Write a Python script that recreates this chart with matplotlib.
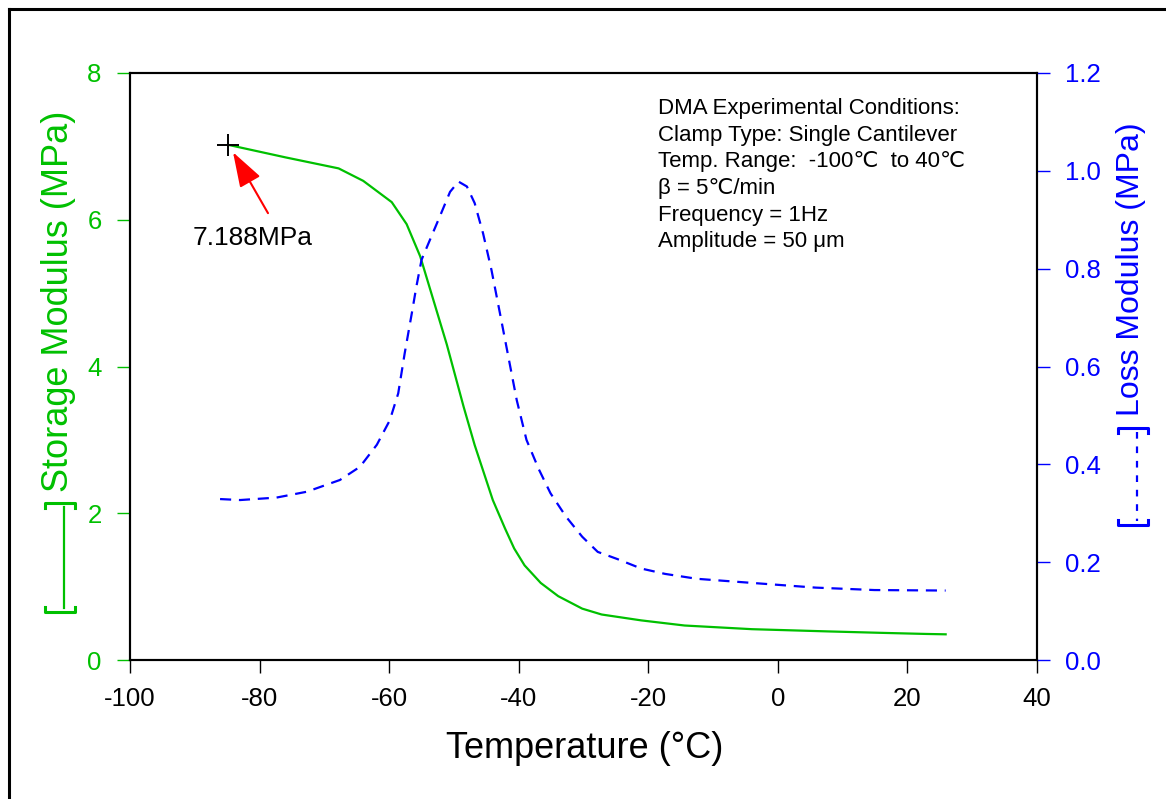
"""
DMA 储能模量 / 损耗模量 随温度变化曲线
"""

import matplotlib
matplotlib.use("Agg")
import matplotlib.pyplot as plt
from matplotlib.lines import Line2D


# ==================== 数据 ====================

# 储能模量 (左轴, MPa)
storage_temp = [-84.8, -76.0, -67.8, -64.0, -59.6, -57.3, -55.2, -51.1, -48.5, -46.8,
                -44.0, -42.1, -40.7, -39.1, -36.6, -33.9, -30.2, -27.2, -21.1, -14.4,
                -4.0, 7.6, 16.0, 22.9, 25.9]
storage_mod = [7.02, 6.85, 6.70, 6.53, 6.24, 5.94, 5.50, 4.30, 3.45, 2.93,
               2.18, 1.79, 1.52, 1.29, 1.05, 0.87, 0.70, 0.62, 0.54, 0.47,
               0.42, 0.39, 0.37, 0.355, 0.35]

# 损耗模量 (右轴, MPa)
loss_temp = [-86.1, -83.0, -77.4, -72.7, -67.6, -64.5, -61.9, -59.9, -58.6, -57.6,
             -56.5, -55.8, -55.0, -53.7, -52.2, -50.6, -49.3, -48.0, -46.8, -45.5,
             -44.2, -42.9, -41.6, -40.3, -38.8, -36.9, -35.1, -32.7, -30.2, -27.8,
             -24.7, -21.1, -17.4, -12.5, -3.4, 5.8, 14.9, 25.9]
loss_mod = [0.329, 0.327, 0.332, 0.344, 0.368, 0.395, 0.44, 0.49, 0.545, 0.627,
            0.709, 0.763, 0.818, 0.859, 0.906, 0.957, 0.978, 0.968, 0.934, 0.872,
            0.797, 0.709, 0.620, 0.531, 0.450, 0.390, 0.341, 0.293, 0.252, 0.221,
            0.206, 0.187, 0.176, 0.166, 0.157, 0.148, 0.143, 0.142]

# 标注点
peak_temp = -84.8
peak_mod = 7.02
peak_label = "7.188MPa"

x_ticks = [-100, -80, -60, -40, -20, 0, 20, 40]
left_ticks = [0, 2, 4, 6, 8]
right_ticks = [0.0, 0.2, 0.4, 0.6, 0.8, 1.0, 1.2]

conditions = [
    "DMA Experimental Conditions:",
    "Clamp Type: Single Cantilever",
    "Temp. Range:  -100\u2103  to 40\u2103",
    "\u03b2 = 5\u2103/min",
    "Frequency = 1Hz",
    "Amplitude = 50 \u03bcm",
]

GREEN = "#00c000"
BLUE = "#0000ff"
W, H = 1166, 799


def px(x, y):
    """像素坐标 -> figure 坐标"""
    return x / W, 1 - y / H


def main():
    plt.rcParams["font.family"] = ["Liberation Sans", "DejaVu Sans"]
    plt.rcParams["axes.unicode_minus"] = False

    fig = plt.figure(figsize=(W / 100, H / 100), dpi=100)
    x0, y1 = px(130, 73)
    x1, y0 = px(1037, 660)
    ax = fig.add_axes([x0, y0, x1 - x0, y1 - y0])
    ax2 = ax.twinx()

    # --- 曲线 ---
    ax.plot(storage_temp, storage_mod, color=GREEN, lw=1.6, zorder=3)
    ax2.plot(loss_temp, loss_mod, color=BLUE, lw=1.6, dashes=(5, 3.5))

    # --- 坐标轴 ---
    ax.set_xlim(-100, 40)
    ax.set_ylim(0, 8)
    ax2.set_ylim(0, 1.2)
    ax.set_xticks(x_ticks)
    ax.set_xticklabels([str(t) for t in x_ticks])
    ax.set_yticks(left_ticks)
    ax2.set_yticks(right_ticks)
    ax2.set_yticklabels([f"{t:.1f}" for t in right_ticks])

    ax.tick_params(axis="x", direction="out", length=9.5, width=1, pad=10,
                   labelsize=18.5, colors="black")
    ax.tick_params(axis="y", direction="out", length=9.5, width=1, pad=11,
                   labelsize=18.5, color=GREEN, labelcolor=GREEN)
    ax2.tick_params(axis="y", direction="out", length=9.5, width=1, pad=11,
                    labelsize=18.5, color=BLUE, labelcolor=BLUE)
    for a in (ax, ax2):
        for s in a.spines.values():
            s.set_color("black")
            s.set_linewidth(1.5)

    # --- 标注 ---
    ax.plot([peak_temp], [peak_mod], marker="+", ms=16, mew=1.4, color="black", zorder=4)
    ax.annotate("", xy=(-84.1, 6.92), xytext=(-78.7, 6.09),
                arrowprops=dict(arrowstyle="-|>,head_length=0.6,head_width=0.2",
                                color="red", lw=1.5, mutation_scale=36,
                                shrinkA=0, shrinkB=0))
    ax.text(-90.4, 5.65, peak_label, fontsize=19, ha="left", va="baseline")

    # 实验条件文本
    for i, line in enumerate(conditions):
        fig.text(658 / W, 1 - (98 + i * 26.7) / H, line, fontsize=16,
                 ha="left", va="top")

    # --- 轴标题 ---
    fig.text(*px(585, 758), "Temperature (\u00b0C)", fontsize=26,
             ha="center", va="baseline")
    fig.text(*px(59, 301), "Storage Modulus (MPa)", fontsize=26, color=GREEN,
             rotation=90, ha="center", va="center")
    fig.text(*px(1131, 269), "Loss Modulus (MPa)", fontsize=23, color=BLUE,
             rotation=90, ha="center", va="center")

    # 图例括号
    def bracket(xc, ytop, ybot, color, dashed):
        half, hook = 15, 5
        kw = dict(color=color, lw=2.2, transform=fig.transFigure)
        for yy, sgn in ((ybot, -1), (ytop, 1)):
            xs = [xc - half, xc - half, xc + half, xc + half]
            ys = [yy + sgn * hook, yy, yy, yy + sgn * hook]
            pts = [px(a, b) for a, b in zip(xs, ys)]
            fig.add_artist(Line2D([p[0] for p in pts], [p[1] for p in pts], **kw))
        lk = dict(color=color, lw=1.6, transform=fig.transFigure)
        if dashed:
            lk["dashes"] = (3, 3.5)
        fig.add_artist(Line2D([px(xc + 4, 0)[0]] * 2,
                              [px(0, ytop + 4)[1], px(0, ybot - 4)[1]], **lk))

    bracket(60, 503, 612, GREEN, False)
    bracket(1133, 428, 525, BLUE, True)

    # 外框
    fk = dict(color="black", lw=2.2, transform=fig.transFigure)
    fig.add_artist(Line2D([8.5 / W, 8.5 / W], [0, 1 - 8.5 / H], **fk))
    fig.add_artist(Line2D([8.5 / W, 1], [1 - 8.5 / H, 1 - 8.5 / H], **fk))

    fig.savefig("out.png", dpi=100)


if __name__ == "__main__":
    main()
